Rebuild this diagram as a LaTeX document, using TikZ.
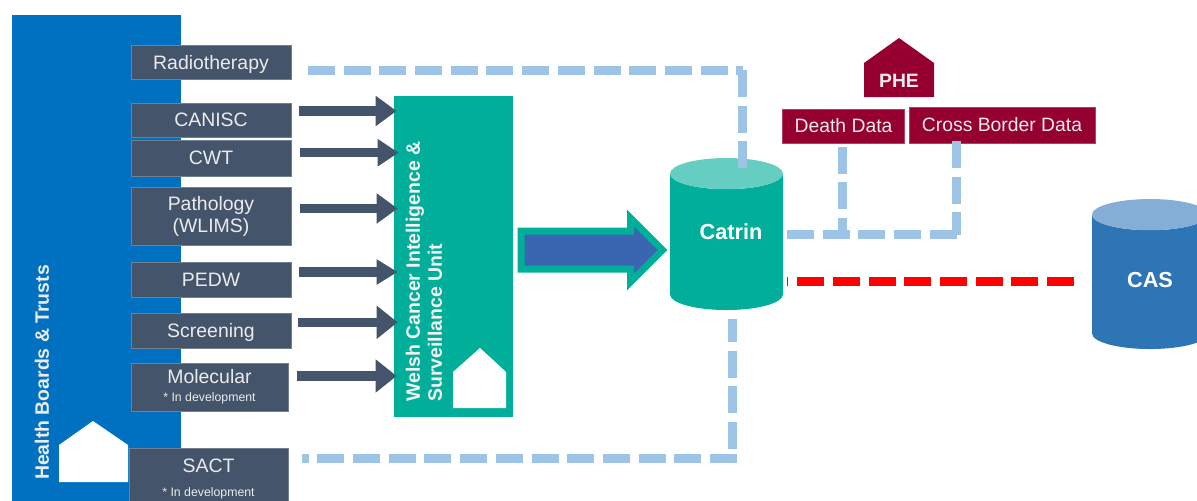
\documentclass[tikz,border=0pt]{standalone}
\usepackage{fontspec}
\setmainfont{Liberation Sans}
\usetikzlibrary{arrows.meta,shapes.geometric,shapes.arrows}

\definecolor{boardblue}{HTML}{0070C0}
\definecolor{boxgrey}{HTML}{44546A}
\definecolor{wcisuteal}{HTML}{00AE9A}
\definecolor{catrintop}{HTML}{66CDC3}
\definecolor{phered}{HTML}{960030}
\definecolor{linkblue}{HTML}{9DC3E6}
\definecolor{flowblue}{HTML}{3A65B0}
\definecolor{casblue}{HTML}{2E75B6}
\definecolor{castop}{HTML}{84AED6}

\tikzset{
    feedbox/.style={fill=boxgrey, draw=boxgrey!75!white, line width=0.3pt, text=white!92!black, align=center, inner sep=0pt,
        minimum width=32mm, font=\fontsize{11.06}{13.04}\selectfont},
    phebox/.style={fill=phered, draw=phered!75!white, line width=0.3pt, text=white!92!black, inner sep=0pt,
        font=\fontsize{11}{13}\selectfont},
    store/.style={cylinder, shape border rotate=90, aspect=0.39, inner sep=0pt, outer sep=0pt, text=white,
        text width=16mm, align=center, text height=3mm, text depth=1mm,
        cylinder uses custom fill, font=\bfseries\fontsize{12.36}{15}\selectfont},
    datadash/.style={draw=linkblue, line width=1.8mm, dash pattern=on 5.4mm off 1.74mm},
    reddash/.style={draw=red, line width=1.8mm, dash pattern=on 5.4mm off 1.74mm}
}

\begin{document}
\begin{tikzpicture}[x=0.2mm, y=-0.2mm]

        \path[use as bounding box, clip] (0, 0) rectangle (1197, 500);

        % Health Boards panel
        \fill[boardblue] (12, 15) rectangle (181, 520);
        \fill[white] (59, 482) -- (59, 445) -- (93, 421) -- (128, 445) -- (128, 482) -- cycle;
        \node[rotate=90, text=white!92!black, font=\bfseries\fontsize{11.06}{13}\selectfont] (boards) at (42, 372.5) {Health Boards \& Trusts};

        % Feed boxes
        \node[feedbox, minimum height=6.8mm, text depth=0pt] (radio) at (211, 62) {Radiotherapy};
        \node[feedbox, minimum height=6.8mm] (canisc) at (211, 120) {CANISC};
        \node[feedbox, minimum height=7.2mm] (cwt) at (211, 158) {CWT};
        \node[feedbox, minimum height=11.6mm] (pathology) at (211, 216.5) {Pathology\\(WLIMS)};
        \node[feedbox, minimum height=7mm] (pedw) at (211, 279.5) {PEDW};
        \node[feedbox, minimum height=7mm, text depth=0pt] (screening) at (211, 330.5) {Screening};
        \node[feedbox, minimum width=31.4mm, minimum height=9.6mm] (molecular) at (209.5, 387) {\raisebox{-0.3mm}{Molecular}\\[-0.6mm]{\fontsize{7}{9}\selectfont * In development}};
        \node[feedbox, minimum width=31.8mm, minimum height=12.4mm] (sact) at (208.5, 479) {SACT\\[0.2mm]{\fontsize{7}{9}\selectfont * In development}};

        % Welsh Cancer Intelligence & Surveillance Unit
        \node[fill=wcisuteal, minimum width=23.8mm, minimum height=64.2mm, inner sep=0pt] (wcisu) at (453.5, 256.5) {};
        \fill[white] (453, 408) -- (453, 372) -- (480, 348) -- (506, 372) -- (506, 408) -- cycle;
        \node[rotate=90, anchor=north west, text=white!95!black, align=left, inner sep=0pt, font=\bfseries\fontsize{11.06}{12.5}\selectfont] (wcisutext) at (405.5, 402) {Welsh Cancer Intelligence \&\\Surveillance Unit};

        % Feeds into the unit
        \foreach \name/\dy/\dx/\hw/\ex in {canisc/9/1.5/5.8/0.6, cwt/5.3/1.8/5.2/1, pathology/8/1.8/5.8/0.8, pedw/7.5/1.6/4.8/0.8, screening/8.2/1.3/6.4/0.8, molecular/11/1.7/6.4/0.6}
            \draw[draw=boxgrey, line width=1.9mm, -{Triangle[length=4.2mm,width=\hw mm]}] ([xshift=\dx mm, yshift=\dy*0.2mm]\name.east) -- ([xshift=\ex mm, yshift=\dy*0.2mm]\name.east -| wcisu.west);

        % Catrin and CAS
        \node[store, cylinder body fill=wcisuteal, cylinder end fill=catrintop, minimum width=22.6mm, minimum height=30.4mm] (catrin) at (726.5, 242) {\hspace{1.8mm}\raisebox{1.5mm}{Catrin}};
        \node[store, cylinder body fill=casblue, cylinder end fill=castop, minimum width=23.2mm, minimum height=30mm] (cas) at (1150, 282) {CAS};

        % Big arrow from the unit to Catrin
        \node[single arrow, anchor=tail, draw=wcisuteal, fill=flowblue, line width=1.4mm, inner sep=0pt, outer sep=0pt, inner ysep=3.1mm,
            single arrow head extend=2.6mm, minimum height=28.3mm] (flow) at (521, 250) {};

        % PHE
        \fill[phered] (864, 97) -- (864, 63) -- (899, 38) -- (934, 63) -- (934, 97) -- cycle;
        \node[text=white!92!black, font=\fontsize{11}{13}\selectfont\bfseries] (phe) at (899, 81) {PHE};
        \node[phebox, minimum width=24.4mm, minimum height=6.8mm] (death) at (843.5, 126) {Death Data};
        \node[phebox, minimum width=37.2mm, minimum height=7.2mm] (cross) at (1002, 125) {Cross Border Data};

        % Dashed links
        \coordinate (radiobend) at (742.5, 70);
        \draw[datadash] ([xshift=3.34mm]radio.east |- radiobend) -- (radiobend);
        \draw[datadash] (radiobend) -- ([yshift=-2mm]radiobend |- catrin.north);
        \coordinate (sactbend) at (737, 458);
        \coordinate (sactup) at (732, 449);
        \draw[datadash] (sactbend) -- ([xshift=2.7mm]sact.east |- sactbend);
        \draw[datadash] (sactup) -- ([yshift=-1.8mm]sactup |- catrin.south);
        \coordinate (bend) at (956.5, 234.7);
        \draw[datadash] ([xshift=-0.2mm, yshift=-0.66mm]death.south) -- ([xshift=-0.2mm]death.south |- bend);
        \draw[datadash] ([yshift=0.46mm]bend |- cross.south) -- (bend);
        \draw[datadash] ([xshift=0.8mm]catrin.east |- bend) -- (bend);
        \draw[reddash] ([xshift=-3.6mm, yshift=0.2mm]cas.center -| cas.west) -- ([xshift=0.8mm, yshift=0.2mm]cas.center -| catrin.east);

\end{tikzpicture}
\end{document}
